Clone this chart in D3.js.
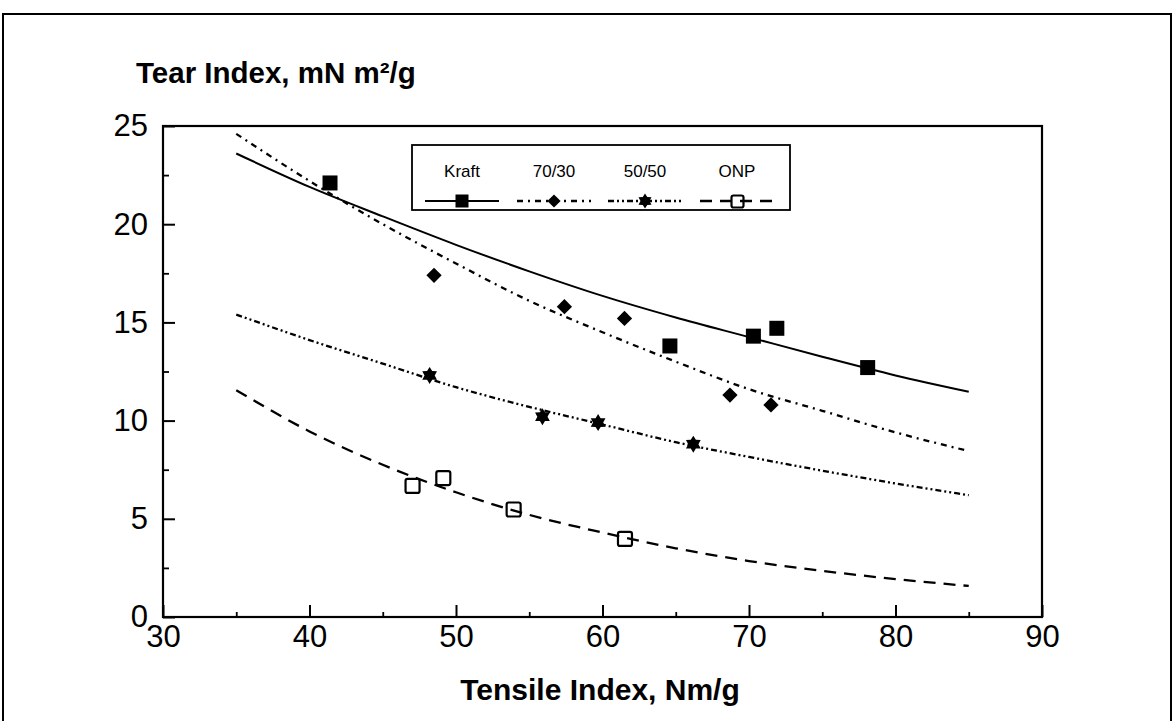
<!DOCTYPE html>
<html>
<head>
<meta charset="utf-8">
<script src="https://cdn.jsdelivr.net/npm/d3@7"></script>
<style>
  html, body { margin: 0; padding: 0; background: #fff; }
  svg { display: block; font-family: 'Liberation Sans', Arial, sans-serif; }
</style>
</head>
<body>
<div id="chart"></div>
<script>
// tick labels
const xTicks = [30, 40, 50, 60, 70, 80, 90];
const yTicks = [0, 5, 10, 15, 20, 25];
const seriesNames = ['Kraft', '70/30', '50/50', 'ONP'];

// measured points
const kraftX = [41.4, 64.6, 70.3, 71.9, 78.1];
const kraftY = [22.1, 13.8, 14.3, 14.7, 12.7];
const mix7030X = [48.5, 57.4, 61.5, 68.7, 71.5];
const mix7030Y = [17.4, 15.8, 15.2, 11.3, 10.8];
const mix5050X = [48.2, 55.9, 59.7, 66.2];
const mix5050Y = [12.3, 10.2, 9.9, 8.8];
const onpX = [47.0, 49.1, 53.9, 61.5];
const onpY = [6.7, 7.1, 5.5, 4.0];

// fitted curves
const fitX = [35, 40, 45, 50, 55, 60, 65, 70, 75, 80, 85];
const kraftFit = [23.6, 21.9, 20.4, 18.95, 17.6, 16.35, 15.25, 14.25, 13.25, 12.3, 11.47];
const fit7030 = [24.6, 22.2, 20.0, 18.0, 16.1, 14.5, 13.0, 11.6, 10.5, 9.4, 8.45];
const fit5050 = [15.4, 14.1, 12.9, 11.7, 10.7, 9.8, 8.9, 8.15, 7.45, 6.8, 6.2];
const onpFit = [11.55, 9.45, 7.75, 6.35, 5.2, 4.3, 3.5, 2.85, 2.35, 1.93, 1.58];

const width = 1175;
const height = 721;

const svg = d3.select('#chart')
  .append('svg')
  .attr('width', width)
  .attr('height', height);

// outer frame (bottom runs off the page)
svg.append('rect')
  .attr('x', 3)
  .attr('y', 14)
  .attr('width', 1168)
  .attr('height', 740)
  .attr('fill', 'none')
  .attr('stroke', '#000')
  .attr('stroke-width', 2);

const x = d3.scaleLinear().domain([30, 90]).range([163, 1042]);
const y = d3.scaleLinear().domain([0, 25]).range([617, 126]);

// hexagram marker
const starPath = r => d3.lineRadial()
  .curve(d3.curveLinearClosed)(d3.range(12).map(i => [i * Math.PI / 6, i % 2 ? r * 0.6 : r]));

const series = [
  { name: seriesNames[0], xs: kraftX, ys: kraftY, fit: kraftFit, dash: null, marker: 'square' },
  { name: seriesNames[1], xs: mix7030X, ys: mix7030Y, fit: fit7030, dash: '6,5,2,5', marker: 'diamond' },
  { name: seriesNames[2], xs: mix5050X, ys: mix5050Y, fit: fit5050, dash: '6,3,2,3,2,3', marker: 'star' },
  { name: seriesNames[3], xs: onpX, ys: onpY, fit: onpFit, dash: '12,8', marker: 'open' }
];

function drawMarker(g, type, cx, cy, s) {
  if (type === 'square') {
    g.append('rect')
      .attr('x', cx - s / 2).attr('y', cy - s / 2)
      .attr('width', s).attr('height', s)
      .attr('fill', '#000');
  } else if (type === 'diamond') {
    g.append('path')
      .attr('transform', `translate(${cx},${cy}) rotate(45)`)
      .attr('d', d3.symbol(d3.symbolSquare, (s * 0.72) * (s * 0.72))())
      .attr('fill', '#000');
  } else if (type === 'star') {
    g.append('path')
      .attr('transform', `translate(${cx},${cy})`)
      .attr('d', starPath(s / 2 + 1))
      .attr('fill', '#000');
  } else {
    g.append('rect')
      .attr('x', cx - s / 2 + 1).attr('y', cy - s / 2 + 1)
      .attr('width', s - 1).attr('height', s - 1)
      .attr('rx', 2)
      .attr('fill', 'none')
      .attr('stroke', '#000')
      .attr('stroke-width', 2.2);
  }
}

const line = d3.line()
  .x(d => x(d[0]))
  .y(d => y(d[1]))
  .curve(d3.curveMonotoneX);

// Add the curves
series.forEach(s => {
  svg.append('path')
    .datum(fitX.map((v, i) => [v, s.fit[i]]))
    .attr('d', line)
    .attr('fill', 'none')
    .attr('stroke', '#000')
    .attr('stroke-width', s.dash ? 2.3 : 2)
    .attr('stroke-dasharray', s.dash);
});

// Add the points
series.forEach(s => {
  const g = svg.append('g');
  s.xs.forEach((v, i) => drawMarker(g, s.marker, x(v), y(s.ys[i]), 15));
});

// Add the axes
svg.append('g')
  .attr('transform', `translate(0,${y(0)})`)
  .call(d3.axisBottom(x).tickValues(d3.range(35, 90, 10)).tickSize(-5).tickSizeOuter(0).tickFormat(''))
  .call(g => g.select('.domain').remove())
  .attr('stroke-width', 1.8);

svg.append('g')
  .attr('transform', `translate(0,${y(0)})`)
  .call(d3.axisBottom(x).tickValues(xTicks).tickSize(-12).tickSizeOuter(0).tickPadding(8))
  .call(g => g.select('.domain').remove())
  .call(g => g.selectAll('text').attr('font-size', 31).attr('font-family', null))
  .attr('stroke-width', 2);

svg.append('g')
  .attr('transform', `translate(${x(30)},0)`)
  .call(d3.axisLeft(y).tickValues(d3.range(2.5, 25, 5)).tickSize(-6).tickSizeOuter(0).tickFormat(''))
  .call(g => g.select('.domain').remove())
  .attr('stroke-width', 1.8);

svg.append('g')
  .attr('transform', `translate(${x(30)},0)`)
  .call(d3.axisLeft(y).tickValues(yTicks).tickSize(-12).tickSizeOuter(0).tickPadding(15))
  .call(g => g.select('.domain').remove())
  .call(g => g.selectAll('text').attr('font-size', 31).attr('font-family', null))
  .attr('stroke-width', 2);

// plot box
svg.append('rect')
  .attr('x', x(30))
  .attr('y', y(25))
  .attr('width', x(90) - x(30))
  .attr('height', y(0) - y(25))
  .attr('fill', 'none')
  .attr('stroke', '#000')
  .attr('stroke-width', 2.2);

// titles
svg.append('text')
  .attr('x', 136)
  .attr('y', 83)
  .attr('font-size', 29.5)
  .attr('font-weight', 'bold')
  .text('Tear Index, mN m²/g');

svg.append('text')
  .attr('x', 600)
  .attr('y', 700)
  .attr('text-anchor', 'middle')
  .attr('font-size', 30)
  .attr('font-weight', 'bold')
  .text('Tensile Index, Nm/g');

// legend
const legend = svg.append('g');
legend.append('rect')
  .attr('x', 412)
  .attr('y', 145)
  .attr('width', 378)
  .attr('height', 65)
  .attr('fill', '#fff')
  .attr('stroke', '#000')
  .attr('stroke-width', 1.8);

const legendCx = [462, 554, 645, 737];
series.forEach((s, i) => {
  const cx = legendCx[i];
  legend.append('text')
    .attr('x', cx)
    .attr('y', 177)
    .attr('text-anchor', 'middle')
    .attr('font-size', 17)
    .text(s.name);
  legend.append('line')
    .attr('x1', cx - 37).attr('x2', cx + 37)
    .attr('y1', 201).attr('y2', 201)
    .attr('stroke', '#000')
    .attr('stroke-width', s.dash ? 2.3 : 2)
    .attr('stroke-dasharray', s.dash);
  drawMarker(legend, s.marker, cx, 201, 13);
});
</script>
</body>
</html>
